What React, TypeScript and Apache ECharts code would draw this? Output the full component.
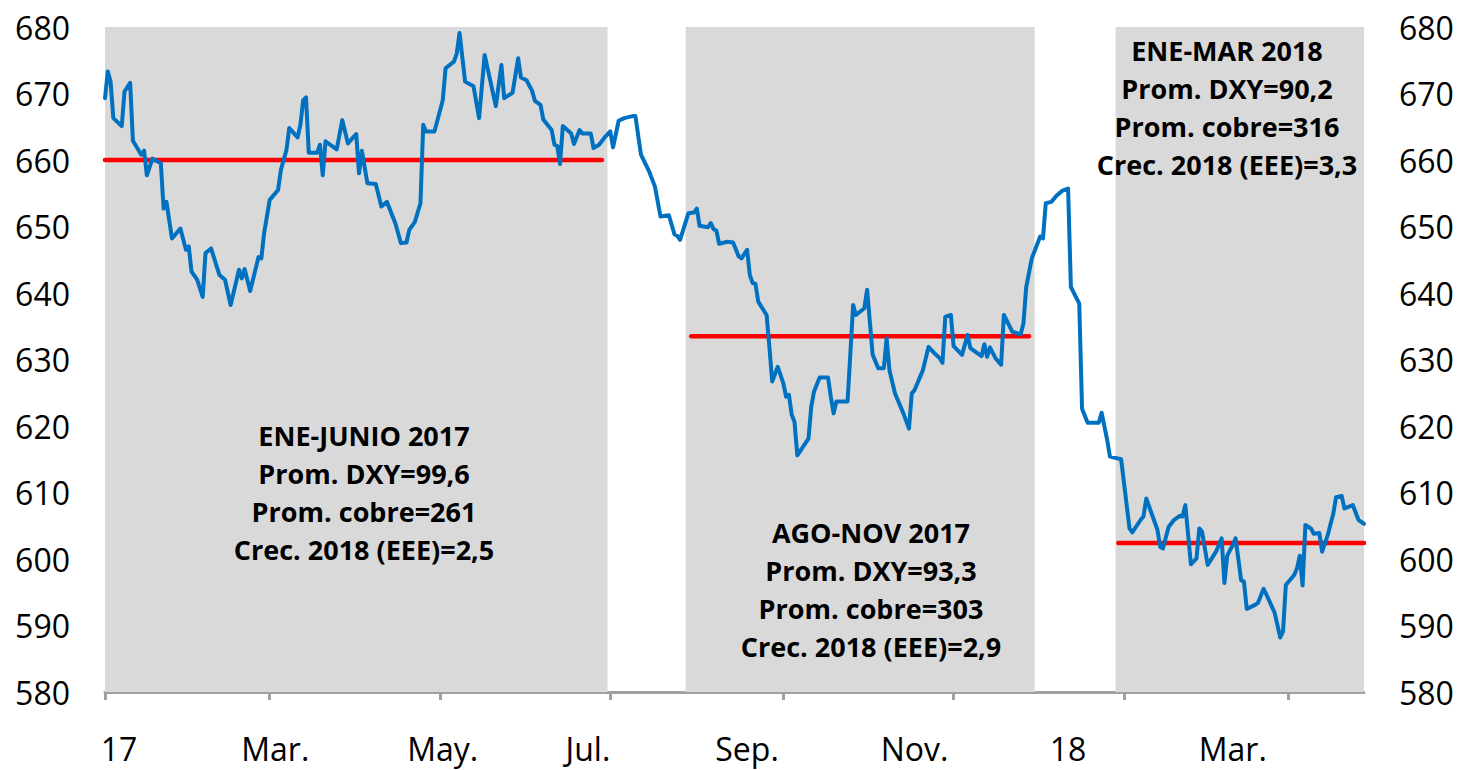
import React, { useEffect, useRef } from 'react';
import * as echarts from 'echarts';

const dates: string[] = [
  '2017-01-01','2017-01-02','2017-01-03','2017-01-04','2017-01-07','2017-01-08','2017-01-10','2017-01-11','2017-01-14','2017-01-15','2017-01-16','2017-01-18','2017-01-21','2017-01-22','2017-01-23','2017-01-25','2017-01-28','2017-01-30','2017-01-31',
  '2017-02-01','2017-02-03','2017-02-05','2017-02-06','2017-02-08','2017-02-11','2017-02-13','2017-02-15','2017-02-18','2017-02-19','2017-02-20','2017-02-22','2017-02-25','2017-02-26','2017-02-27',
  '2017-03-01','2017-03-04','2017-03-05','2017-03-07','2017-03-08','2017-03-11','2017-03-12','2017-03-13','2017-03-14','2017-03-15','2017-03-18','2017-03-19','2017-03-20','2017-03-21','2017-03-25','2017-03-27','2017-03-29',
  '2017-04-01','2017-04-02','2017-04-03','2017-04-05','2017-04-08','2017-04-10','2017-04-12','2017-04-15','2017-04-17','2017-04-19','2017-04-20','2017-04-22','2017-04-24','2017-04-25','2017-04-26','2017-04-29',
  '2017-05-02','2017-05-03','2017-05-06','2017-05-07','2017-05-08','2017-05-10','2017-05-13','2017-05-15','2017-05-17','2017-05-21','2017-05-23','2017-05-24','2017-05-27','2017-05-29','2017-05-30',
  '2017-06-01','2017-06-03','2017-06-04','2017-06-06','2017-06-07','2017-06-10','2017-06-11','2017-06-12','2017-06-13','2017-06-14','2017-06-17','2017-06-18','2017-06-20','2017-06-21','2017-06-24','2017-06-25','2017-06-27','2017-06-29',
  '2017-07-01','2017-07-02','2017-07-04','2017-07-06','2017-07-09','2017-07-10','2017-07-12','2017-07-15','2017-07-17','2017-07-19','2017-07-22','2017-07-24','2017-07-25','2017-07-26','2017-07-29','2017-07-31',
  '2017-08-01','2017-08-02','2017-08-05','2017-08-06','2017-08-07','2017-08-08','2017-08-09','2017-08-12','2017-08-14','2017-08-16','2017-08-17','2017-08-19','2017-08-20','2017-08-21','2017-08-22','2017-08-23','2017-08-26','2017-08-27','2017-08-28','2017-08-30',
  '2017-09-01','2017-09-02','2017-09-03','2017-09-04','2017-09-05','2017-09-06','2017-09-10','2017-09-11','2017-09-12','2017-09-14','2017-09-17','2017-09-18','2017-09-19','2017-09-20','2017-09-24','2017-09-25','2017-09-26','2017-09-27','2017-09-30',
  '2017-10-01','2017-10-03','2017-10-05','2017-10-07','2017-10-08','2017-10-09','2017-10-11','2017-10-14','2017-10-16','2017-10-17','2017-10-18','2017-10-21','2017-10-23','2017-10-25','2017-10-27','2017-10-28','2017-10-29','2017-10-31',
  '2017-11-01','2017-11-04','2017-11-06','2017-11-07','2017-11-11','2017-11-12','2017-11-13','2017-11-14','2017-11-16','2017-11-18','2017-11-19','2017-11-22','2017-11-24','2017-11-25','2017-11-26','2017-11-27','2017-11-29',
  '2017-12-02','2017-12-03','2017-12-04','2017-12-06','2017-12-08','2017-12-10','2017-12-12','2017-12-13','2017-12-16','2017-12-17','2017-12-19','2017-12-23','2017-12-24','2017-12-26','2017-12-27','2017-12-31',
  '2018-01-03','2018-01-04','2018-01-07','2018-01-08','2018-01-09','2018-01-13','2018-01-14','2018-01-15','2018-01-17','2018-01-19','2018-01-21','2018-01-22','2018-01-23','2018-01-25','2018-01-27','2018-01-28','2018-01-29','2018-01-31',
  '2018-02-03','2018-02-05','2018-02-06','2018-02-07','2018-02-09','2018-02-10','2018-02-12','2018-02-13','2018-02-14','2018-02-17','2018-02-18','2018-02-20','2018-02-21','2018-02-24','2018-02-26','2018-02-27','2018-02-28',
  '2018-03-03','2018-03-04','2018-03-05','2018-03-06','2018-03-07','2018-03-09','2018-03-10','2018-03-12','2018-03-13','2018-03-15','2018-03-17','2018-03-18','2018-03-20','2018-03-21','2018-03-24','2018-03-26','2018-03-28',
];

const tipoCambio: number[] = [
  669.3,673.3,671.8,666.3,665.1,670.3,671.6,662.9,660.8,661.4,657.7,660.2,659.5,652.7,653.7,648.2,649.7,646.5,647.0,
  643.2,642.0,639.4,646.0,646.7,642.7,642.0,638.2,643.5,642.2,643.6,640.3,645.4,645.2,649.0,
  654.0,655.5,658.5,661.5,664.8,663.4,665.3,669.0,669.4,661.1,661.1,662.3,657.7,662.8,661.6,666.0,662.5,
  663.9,658.0,661.4,656.5,656.4,653.0,653.7,650.5,647.5,647.6,649.5,650.7,653.5,665.3,664.3,664.3,
  669.0,673.8,674.8,676.0,679.1,671.8,671.1,666.3,675.8,668.1,674.3,669.3,670.1,675.3,672.4,
  672.0,670.4,668.9,668.3,666.1,664.5,662.3,662.1,659.4,665.1,664.0,662.4,664.5,664.0,664.0,661.8,662.3,663.4,
  664.3,661.9,665.9,666.3,666.6,666.6,660.8,658.2,656.0,651.5,651.7,648.8,648.6,648.0,652.0,652.1,
  652.7,650.1,649.9,650.5,649.6,649.4,647.4,647.7,647.6,645.5,645.2,646.5,642.7,641.5,641.4,638.7,636.7,631.9,626.7,628.9,
  626.4,624.4,624.7,621.7,620.6,615.6,618.1,622.9,625.2,627.3,627.3,624.4,621.9,623.7,623.7,630.9,638.2,636.7,637.7,
  640.5,630.7,628.7,628.7,633.2,628.4,624.9,621.9,619.6,624.9,625.4,628.4,631.9,631.0,630.2,629.5,636.4,636.7,
  632.0,630.7,633.7,631.7,630.5,632.3,630.4,631.8,630.2,629.2,636.7,634.2,633.9,633.8,635.4,640.9,645.2,
  648.5,648.2,653.5,653.7,654.7,655.4,655.7,640.9,638.4,622.6,620.5,620.5,622.0,617.9,615.4,615.0,
  604.6,604.0,605.9,606.4,609.1,604.4,601.8,601.6,604.8,605.9,606.5,606.4,608.1,599.2,600.1,604.6,604.1,599.1,
  601.1,603.1,596.4,600.5,602.1,603.1,596.8,596.6,592.5,593.1,593.4,595.5,594.7,591.9,588.2,589.1,596.1,
  597.6,598.6,600.5,596.0,605.1,604.6,603.8,603.9,601.1,603.6,606.8,609.3,609.5,607.6,608.1,605.9,605.3,
];

// Period shading (start, end)
const periodStarts: string[] = ['2017-01-01', '2017-07-28', '2017-12-29'];
const periodEnds: string[] = ['2017-06-30', '2017-11-30', '2018-03-28'];

// Period averages (red lines)
const avgStarts: string[] = ['2017-01-01', '2017-07-30', '2017-12-30'];
const avgEnds: string[] = ['2017-06-28', '2017-11-28', '2018-03-28'];
const avgValues: number[] = [660, 633.5, 602.4];

// Annotations
const periodNotes: string[][] = [
  ['ENE-JUNIO 2017', 'Prom. DXY=99,6', 'Prom. cobre=261', 'Crec. 2018 (EEE)=2,5'],
  ['AGO-NOV 2017', 'Prom. DXY=93,3', 'Prom. cobre=303', 'Crec. 2018 (EEE)=2,9'],
  ['ENE-MAR 2018', 'Prom. DXY=90,2', 'Prom. cobre=316', 'Crec. 2018 (EEE)=3,3'],
];

// Axis
const xMin = '2017-01-01';
const xMax = '2018-03-28';
const tickDates: string[] = ['2017-01-01', '2017-03-01', '2017-05-01', '2017-07-01', '2017-09-01', '2017-11-01', '2018-01-01', '2018-03-01'];
const labelDates: string[] = ['2017-01-06', '2017-03-03', '2017-05-02', '2017-06-23', '2017-08-19', '2017-10-18', '2017-12-12', '2018-02-09'];
const tickLabels: string[] = ['17', 'Mar.', 'May.', 'Jul.', 'Sep.', 'Nov.', '18', 'Mar.'];
const yMin = 580;
const yMax = 680;
const yStep = 10;

const ts = (s: string) => {
  const [y, m, d] = s.split('-').map(Number);
  return new Date(y, m - 1, d).getTime();
};

const FONT = '"Open Sans", "Noto Sans", sans-serif';

export default function App() {
  const ref = useRef<HTMLDivElement>(null);

  useEffect(() => {
    if (!ref.current) return;
    const chart = echarts.init(ref.current, null, { renderer: 'svg' });

    const labelMap: Record<number, string> = {};
    labelDates.forEach((d, i) => { labelMap[ts(d)] = tickLabels[i]; });

    const yAxisBase = {
      type: 'value',
      min: yMin,
      max: yMax,
      interval: yStep,
      axisLine: { show: false },
      axisTick: { show: false },
      splitLine: { show: false },
      axisLabel: { fontSize: 32, fontFamily: FONT, color: '#000', margin: 35 },
    };

    const redSeries = avgValues.map((v, i) => ({
      type: 'line',
      name: 'prom' + i,
      data: [[ts(avgStarts[i]), v], [ts(avgEnds[i]), v]],
      showSymbol: false,
      symbol: 'none',
      lineStyle: { color: '#ff0000', width: 4.5, cap: 'round' },
      z: 3,
      silent: true,
    }));

    const notePos = [
      { x: 364, y: 416 },
      { x: 871, y: 513 },
      { x: 1227, y: 31 },
    ];
    const noteGraphics = periodNotes.map((lines, i) => ({
      type: 'text',
      x: notePos[i].x,
      y: notePos[i].y,
      z: 100,
      style: {
        text: lines.join('\n'),
        fontFamily: FONT,
        fontSize: 27,
        fontWeight: 'bold',
        lineHeight: 38,
        align: 'center',
        verticalAlign: 'top',
        fill: '#000',
      },
    }));

    const option: any = {
      animation: false,
      backgroundColor: '#ffffff',
      grid: { left: 105, right: 97, top: 27, bottom: 78, containLabel: false },
      xAxis: {
        type: 'value',
        min: ts(xMin),
        max: ts(xMax),
        axisLine: { show: true, lineStyle: { color: '#a0a0a0', width: 3 } },
        axisTick: {
          show: true,
          length: 8,
          lineStyle: { color: '#a0a0a0', width: 3 },
          customValues: tickDates.map(ts),
        },
        axisLabel: {
          customValues: labelDates.map(ts),
          formatter: (v: number) => labelMap[v] ?? '',
          fontSize: 32,
          fontFamily: FONT,
          color: '#000',
          margin: 40,
        },
        splitLine: { show: false },
      },
      yAxis: [
        { ...yAxisBase, position: 'left' },
        { ...yAxisBase, position: 'right' },
      ],
      series: [
        {
          type: 'line',
          name: 'areas',
          data: [],
          z: 1,
          silent: true,
          markArea: {
            silent: true,
            itemStyle: { color: '#d9d9d9' },
            data: periodStarts.map((s, i) => [{ xAxis: ts(s) }, { xAxis: ts(periodEnds[i]) }]),
          },
        },
        ...redSeries,
        {
          type: 'line',
          name: 'Tipo de cambio',
          data: dates.map((d, i) => [ts(d), tipoCambio[i]]),
          showSymbol: false,
          symbol: 'none',
          lineStyle: { color: '#0070c0', width: 4, join: 'round', cap: 'round' },
          z: 4,
          silent: true,
        },
      ],
      graphic: noteGraphics,
    };

    chart.setOption(option);
    return () => chart.dispose();
  }, []);

  return (
    <div
      ref={ref}
      style={{ position: 'fixed', left: 0, top: 0, width: 1461, height: 770, background: '#fff' }}
    />
  );
}
